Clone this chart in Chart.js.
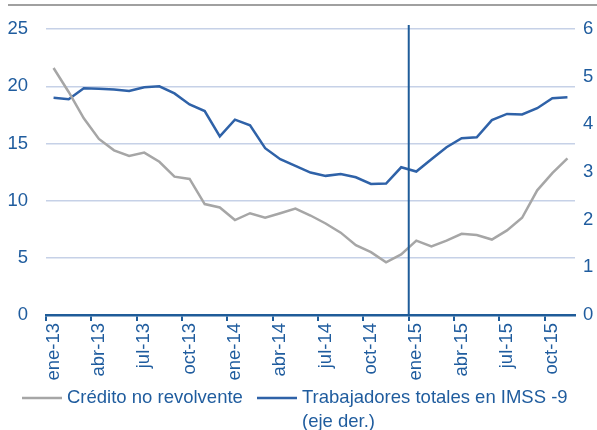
<!DOCTYPE html>
<html>
<head>
<meta charset="utf-8">
<script src="https://cdn.jsdelivr.net/npm/chart.js@4.4.1/dist/chart.umd.min.js"></script>
<style>
  html, body { margin: 0; padding: 0; background: #fff; }
  #wrap { width: 597px; height: 430px; position: relative; }
</style>
</head>
<body>
<div id="wrap"><canvas id="chart"></canvas></div>
<script>
// months ene-13 .. nov-15
const months = [
  'ene-13', 'feb-13', 'mar-13', 'abr-13', 'may-13', 'jun-13', 'jul-13', 'ago-13', 'sep-13', 'oct-13', 'nov-13', 'dic-13',
  'ene-14', 'feb-14', 'mar-14', 'abr-14', 'may-14', 'jun-14', 'jul-14', 'ago-14', 'sep-14', 'oct-14', 'nov-14', 'dic-14',
  'ene-15', 'feb-15', 'mar-15', 'abr-15', 'may-15', 'jun-15', 'jul-15', 'ago-15', 'sep-15', 'oct-15', 'nov-15'
];

// left axis
const creditoNoRevolvente = [
  21.6, 19.5, 17.2, 15.4, 14.4, 13.9, 14.2, 13.4, 12.1, 11.9, 9.7, 9.4,
  8.3, 8.9, 8.5, 8.9, 9.3, 8.7, 8.0, 7.2, 6.1, 5.5, 4.6, 5.3,
  6.5, 6.0, 6.5, 7.1, 7.0, 6.6, 7.4, 8.5, 10.9, 12.4, 13.7
];

// right axis
const trabajadoresImss = [
  4.56, 4.53, 4.76, 4.75, 4.73, 4.70, 4.78, 4.80, 4.65, 4.42, 4.28, 3.75,
  4.10, 3.98, 3.50, 3.27, 3.13, 2.99, 2.92, 2.96, 2.89, 2.75, 2.76, 3.10,
  3.01, 3.27, 3.52, 3.71, 3.73, 4.09, 4.22, 4.21, 4.34, 4.55, 4.57
];

const leftTicks = [0, 5, 10, 15, 20, 25];
const rightTicks = [0, 1, 2, 3, 4, 5, 6];
const markerMonth = 'ene-15';

const legendItems = [
  { lines: ['Crédito no revolvente'], color: '#a6a6a6' },
  { lines: ['Trabajadores totales en IMSS -9', '(eje der.)'], color: '#2f62a8' }
];

const txtBlue = '#1f5c9e';
const font = { family: '"Liberation Sans", Arial, sans-serif', size: 18.5 };

// vertical marker line, top rule and legend
const extras = {
  id: 'extras',
  afterDatasetsDraw(chart) {
    const ctx = chart.ctx;
    const x = chart.scales.x;
    const i = months.indexOf(markerMonth);
    const px = (x.getPixelForValue(i - 1) + x.getPixelForValue(i)) / 2;
    ctx.save();
    ctx.strokeStyle = '#1f5c99';
    ctx.lineWidth = 2;
    ctx.beginPath();
    ctx.moveTo(px, 25);
    ctx.lineTo(px, chart.chartArea.bottom);
    ctx.stroke();
    ctx.restore();
  },
  afterDraw(chart) {
    const ctx = chart.ctx;
    ctx.save();
    // cut-off rule at the top
    ctx.strokeStyle = '#a0a0a0';
    ctx.lineWidth = 2;
    ctx.beginPath();
    ctx.moveTo(8, 5);
    ctx.lineTo(597, 5);
    ctx.stroke();

    ctx.font = font.size + 'px ' + font.family;
    ctx.textBaseline = 'middle';
    ctx.fillStyle = txtBlue;
    const starts = [22, 257];
    legendItems.forEach((item, k) => {
      const x0 = starts[k];
      const y0 = 398;
      ctx.strokeStyle = item.color;
      ctx.lineWidth = 2.5;
      ctx.beginPath();
      ctx.moveTo(x0, y0);
      ctx.lineTo(x0 + 40, y0);
      ctx.stroke();
      item.lines.forEach((t, j) => {
        ctx.fillText(t, x0 + 45, y0 + j * 24);
      });
    });
    ctx.restore();
  }
};

new Chart(document.getElementById('chart'), {
  type: 'line',
  data: {
    labels: months,
    datasets: [{
      label: legendItems[0].lines[0],
      data: creditoNoRevolvente,
      borderColor: '#a6a6a6',
      borderWidth: 2.5,
      pointRadius: 0,
      tension: 0,
      yAxisID: 'y'
    }, {
      label: legendItems[1].lines.join(' '),
      data: trabajadoresImss,
      borderColor: '#2f62a8',
      borderWidth: 2.5,
      pointRadius: 0,
      tension: 0,
      yAxisID: 'y1'
    }]
  },
  options: {
    responsive: true,
    maintainAspectRatio: false,
    animation: false,
    layout: { padding: { top: 28, bottom: 45, left: 0, right: 0 } },
    plugins: {
      legend: { display: false },
      tooltip: { enabled: false }
    },
    scales: {
      x: {
        offset: true,
        grid: {
          offset: true,
          drawOnChartArea: false,
          tickLength: 6,
          lineWidth: 2,
          tickColor: c => (c.index % 3 === 0 ? '#1f5c99' : 'rgba(0,0,0,0)')
        },
        border: { color: '#1f5c99', width: 2.5 },
        ticks: {
          autoSkip: false,
          maxRotation: 90,
          minRotation: 90,
          padding: 2,
          color: txtBlue,
          font: font,
          callback: function(v, i) { return i % 3 === 0 ? months[i] : ''; }
        },
        afterFit(s) { s.height = 70; }
      },
      y: {
        position: 'left',
        min: 0,
        max: 25,
        afterBuildTicks(s) { s.ticks = leftTicks.map(v => ({ value: v })); },
        grid: { color: '#c6d1e7', lineWidth: 1.5, drawTicks: false },
        border: { display: false },
        ticks: { color: txtBlue, font: font, padding: 18 },
        afterFit(s) { s.width = 46; }
      },
      y1: {
        position: 'right',
        min: 0,
        max: 6,
        afterBuildTicks(s) { s.ticks = rightTicks.map(v => ({ value: v })); },
        grid: { display: false, drawTicks: false },
        border: { display: false },
        ticks: { color: txtBlue, font: font, padding: 8 },
        afterFit(s) { s.width = 22; }
      }
    }
  },
  plugins: [extras]
});
</script>
</body>
</html>
